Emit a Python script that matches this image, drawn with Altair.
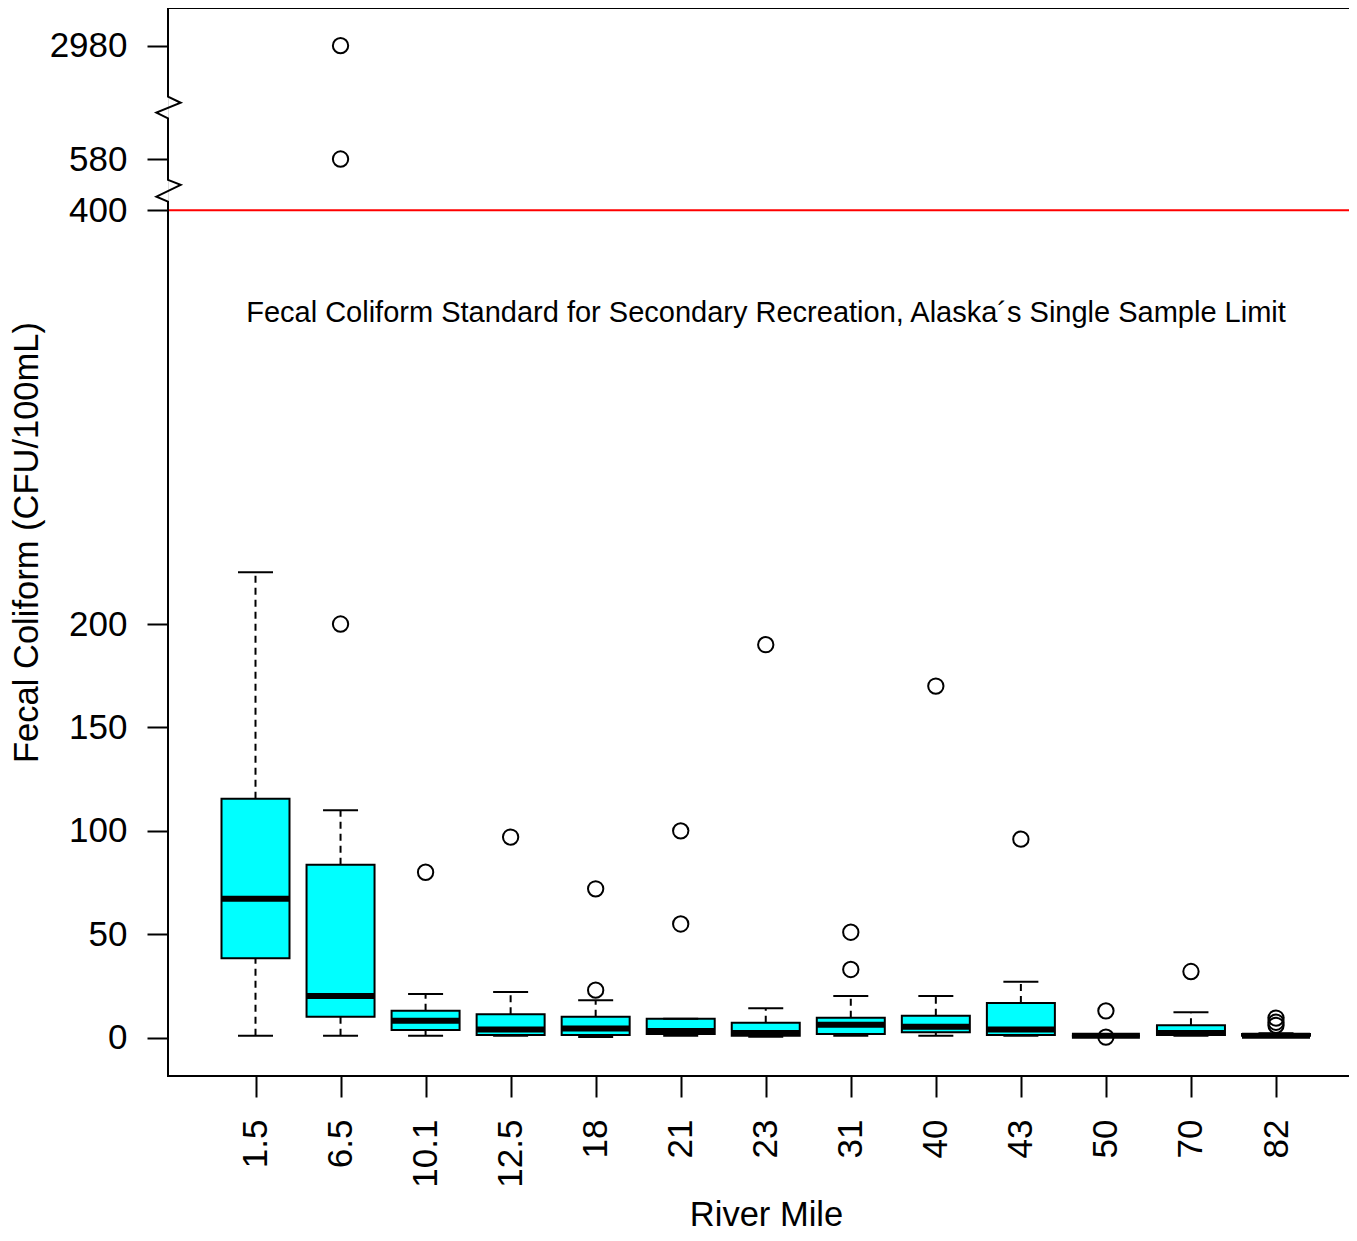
import altair as alt
import pandas as pd

# ---- data ----
miles = ["1.5", "6.5", "10.1", "12.5", "18", "21", "23", "31", "40", "43", "50", "70", "82"]
lower_whisker = [1, 1, 1, 1, 0.3, 1, 0.5, 1, 1, 1, 1, 1, 1]
q1 = [38.4, 10.2, 3.7, 1.3, 1.3, 1.8, 1, 1.8, 2.6, 1.3, 1, 1.3, 1]
median = [67.2, 20.2, 8.2, 4, 4.5, 3.3, 2.3, 6.3, 5.3, 4, 1, 2.3, 1]
q3 = [115.5, 83.6, 13, 11.3, 10.2, 9.2, 7.2, 9.7, 10.6, 16.8, 1, 6, 1.8]
upper_whisker = [225, 110, 21.1, 22.1, 18.1, 9.2, 14.2, 20.2, 20.2, 27.1, 1, 12.3, 2.2]

outlier_mile = ["6.5", "6.5", "6.5", "10.1", "12.5", "18", "18", "21", "21", "23",
                "31", "31", "40", "43", "50", "50", "70", "82", "82", "82"]
outlier_value = [200, 580, 2980, 80, 97, 72, 23, 100, 55, 190,
                 51, 33, 170, 96, 13, 0.3, 32, 9.5, 7.5, 6]

standard_limit = 400
annotation = "Fecal Coliform Standard for Secondary Recreation, Alaska\u00b4s Single Sample Limit"

# ---- broken y axis: value -> display coordinate ----
break_values = [400, 580, 2980]
break_display = [400, 424.8, 479.6]


def disp(v):
    if v <= break_values[0]:
        return v
    for i in range(len(break_values) - 1):
        a, b = break_values[i], break_values[i + 1]
        if v <= b:
            return break_display[i] + (v - a) / (b - a) * (break_display[i + 1] - break_display[i])
    return break_display[-1]


W, H = 1181, 1068
Y_MIN, Y_MAX = -18.5, 497.8
FONT = "Liberation Sans"

boxes = pd.DataFrame({
    "mile": miles,
    "lower": [disp(v) for v in lower_whisker],
    "q1": [disp(v) for v in q1],
    "median": [disp(v) for v in median],
    "q3": [disp(v) for v in q3],
    "upper": [disp(v) for v in upper_whisker],
})
outliers = pd.DataFrame({"mile": outlier_mile, "v": [disp(v) for v in outlier_value]})

tick_values = [0, 50, 100, 150, 200, 400, break_display[1], break_display[2]]
label_expr = ("datum.value > 470 ? '2980' : (datum.value > 420 ? '580' : format(datum.value, 'd'))")

yscale = alt.Scale(domain=[Y_MIN, Y_MAX], nice=False, zero=False)
yaxis = alt.Axis(values=tick_values, labelExpr=label_expr, grid=False, domain=False,
                 tickSize=21, tickWidth=2, tickColor="black", labelFontSize=35,
                 labelFont=FONT, labelColor="black", labelPadding=20,
                 title="Fecal Coliform (CFU/100mL)", titleFont=FONT, titleFontSize=34.5,
                 titleFontWeight="normal", titleColor="black", titleAngle=-90,
                 titleBaseline="alphabetic", titleX=-131, titleY=H / 2, titleAlign="center")

xscale = alt.Scale(type="point", domain=miles, range=[87.5, 1108], padding=0)
xaxis = alt.Axis(domain=False, grid=False, tickSize=21, tickWidth=2, tickColor="black",
                 labelAngle=-90, labelFontSize=35, labelFont=FONT, labelColor="black",
                 labelPadding=22, title="River Mile", titleFont=FONT, titleFontSize=34.5,
                 titleFontWeight="normal", titleColor="black", titleBaseline="alphabetic",
                 titleX=598, titleY=149, titleAlign="center")

X = alt.X("mile:N", scale=xscale, axis=xaxis, sort=miles)


def Y(field):
    return alt.Y(field, type="quantitative", scale=yscale, axis=yaxis)


base = alt.Chart(boxes)

whisker_up = base.mark_rule(color="black", strokeWidth=2, strokeDash=[7, 5], opacity=1).encode(
    x=X, y=Y("q3"), y2="upper")
whisker_lo = base.mark_rule(color="black", strokeWidth=2, strokeDash=[7, 5], opacity=1).encode(
    x=X, y=Y("lower"), y2="q1")
cap_up = base.mark_tick(color="black", size=35, thickness=2, opacity=1).encode(x=X, y=Y("upper"))
cap_lo = base.mark_tick(color="black", size=35, thickness=2, opacity=1).encode(x=X, y=Y("lower"))
box = base.mark_bar(size=68, fill="#00FFFF", stroke="black", strokeWidth=2, opacity=1).encode(
    x=X, y=Y("q1"), y2="q3")
med = base.mark_tick(color="black", size=68, thickness=6, opacity=1).encode(x=X, y=Y("median"))
pts = alt.Chart(outliers).mark_point(shape="circle", size=235, filled=False,
                                     color="black", strokeWidth=2, opacity=1).encode(
    x=X, y=Y("v"))

one = alt.Data(values=[{}])
limit = alt.Chart(one).mark_rule(color="#FF0000", strokeWidth=2, opacity=1).encode(
    y=alt.Y(datum=standard_limit, type="quantitative", scale=yscale, axis=yaxis))
note = alt.Chart(one).mark_text(text=annotation, font=FONT, fontSize=29, color="black",
                                align="center", baseline="middle").encode(
    x=alt.value(598),
    y=alt.Y(datum=350.4, type="quantitative", scale=yscale, axis=yaxis))

inner = alt.layer(whisker_up, whisker_lo, box, med, cap_up, cap_lo, pts, limit, note)

# frame (bottom, left with axis-break zigzags, top); x in pixels of the plot area
frame_px = [W, 0, 0, -11.6, 12.7, 0, 0, -11.6, 12.7, 0, 0, W]
frame_d = [Y_MIN, Y_MIN, 404.2, 406.6, 412.3, 414.7, 444.5, 447.2, 452.0, 455.0, Y_MAX, Y_MAX]
frame = pd.DataFrame({"px": frame_px, "d": frame_d, "k": list(range(len(frame_px)))})
frame_line = alt.Chart(frame).mark_line(color="black", strokeWidth=2, clip=False).encode(
    x=alt.X("px:Q", scale=alt.Scale(domain=[0, W], nice=False, zero=False), axis=None),
    y=Y("d"),
    order="k:Q",
)

chart = alt.layer(inner, frame_line).resolve_scale(x="independent").properties(
    width=W, height=H,
    autosize=alt.AutoSizeParams(type="none"),
    padding={"left": 160, "top": 0, "right": 0, "bottom": 157},
).configure_view(stroke=None).configure(background="white")

chart.save("out.html", embed_options={"renderer": "svg", "actions": False})
